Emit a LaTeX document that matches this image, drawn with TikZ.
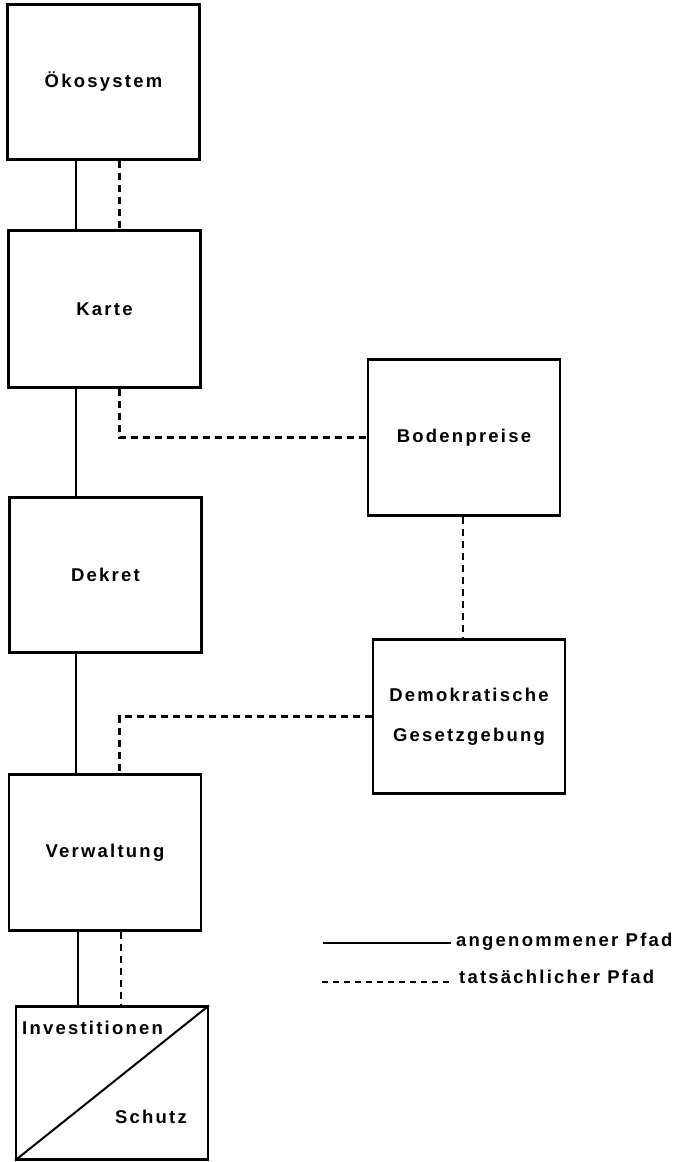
\documentclass[tikz,border=0pt]{standalone}
\usepackage{fontspec}
\setmainfont{Liberation Sans}[LetterSpace=12]
\begin{document}
\begin{tikzpicture}[x=1pt,y=-1pt,
  box/.style={draw, line width=2.2pt, minimum width=192pt, minimum height=155pt, inner sep=0pt, align=center, font=\fontsize{18.5}{40}\selectfont\bfseries},
  lbl/.style={inner sep=0pt, font=\fontsize{18.5}{22}\selectfont\bfseries},
  solidline/.style={line width=2.2pt},
  dashline/.style={line width=2.2pt, dash pattern=on 7pt off 5pt}]
\useasboundingbox (0,0) rectangle (685,1162);
\node[box] (oeko) at (103.5,82) {Ökosystem};
\node[box, minimum height=157pt] (karte) at (104.5,309) {Karte};
\node[box] (dekret) at (105.5,575) {Dekret};
\node[box, minimum height=156pt] (verw) at (105,852.5) {Verwaltung};
\node[box, minimum height=153pt] (inv) at (112,1083) {};
\node[box, minimum height=156pt] (boden) at (464,437.5) {Bodenpreise};
\node[box, minimum height=154pt] (demo) at (469,716.5) {Demokratische\\Gesetzgebung};
\draw[line width=2pt] (inv.south west) -- (inv.north east);
\node[lbl, anchor=west] (invt) at (22,1028) {Investitionen};
\node[lbl] (schutz) at (151,1117) {Schutz};
\coordinate (sA) at (76,0);
\coordinate (dA) at (119.5,0);
\coordinate (sB) at (78,0);
\coordinate (dB) at (121,0);
\coordinate (dR) at (463,0);
\draw[solidline] (oeko.south -| sA) -- (karte.north -| sA);
\draw[dashline] (oeko.south -| dA) -- (karte.north -| dA);
\draw[solidline] (karte.south -| sA) -- (dekret.north -| sA);
\draw[dashline] (karte.south -| dA) |- (boden.west);
\draw[dashline] (boden.south -| dR) -- (demo.north -| dR);
\draw[solidline] (dekret.south -| sA) -- (verw.north -| sA);
\draw[dashline] (demo.west) -| (verw.north -| dA);
\draw[solidline] (verw.south -| sB) -- (inv.north -| sB);
\draw[dashline] (verw.south -| dB) -- (inv.north -| dB);
\coordinate (l1a) at (323,943);
\coordinate (l1b) at (451,943);
\coordinate (l2a) at (322,982);
\coordinate (l2b) at (449,982);
\draw[line width=2pt] (l1a) -- (l1b);
\draw[line width=1.8pt, dash pattern=on 6pt off 5pt] (l2a) -- (l2b);
\node[lbl, anchor=west] (leg1) at (456,942) {angenommener Pfad};
\node[lbl, anchor=west] (leg2) at (459,977) {tatsächlicher Pfad};
\end{tikzpicture}
\end{document}
